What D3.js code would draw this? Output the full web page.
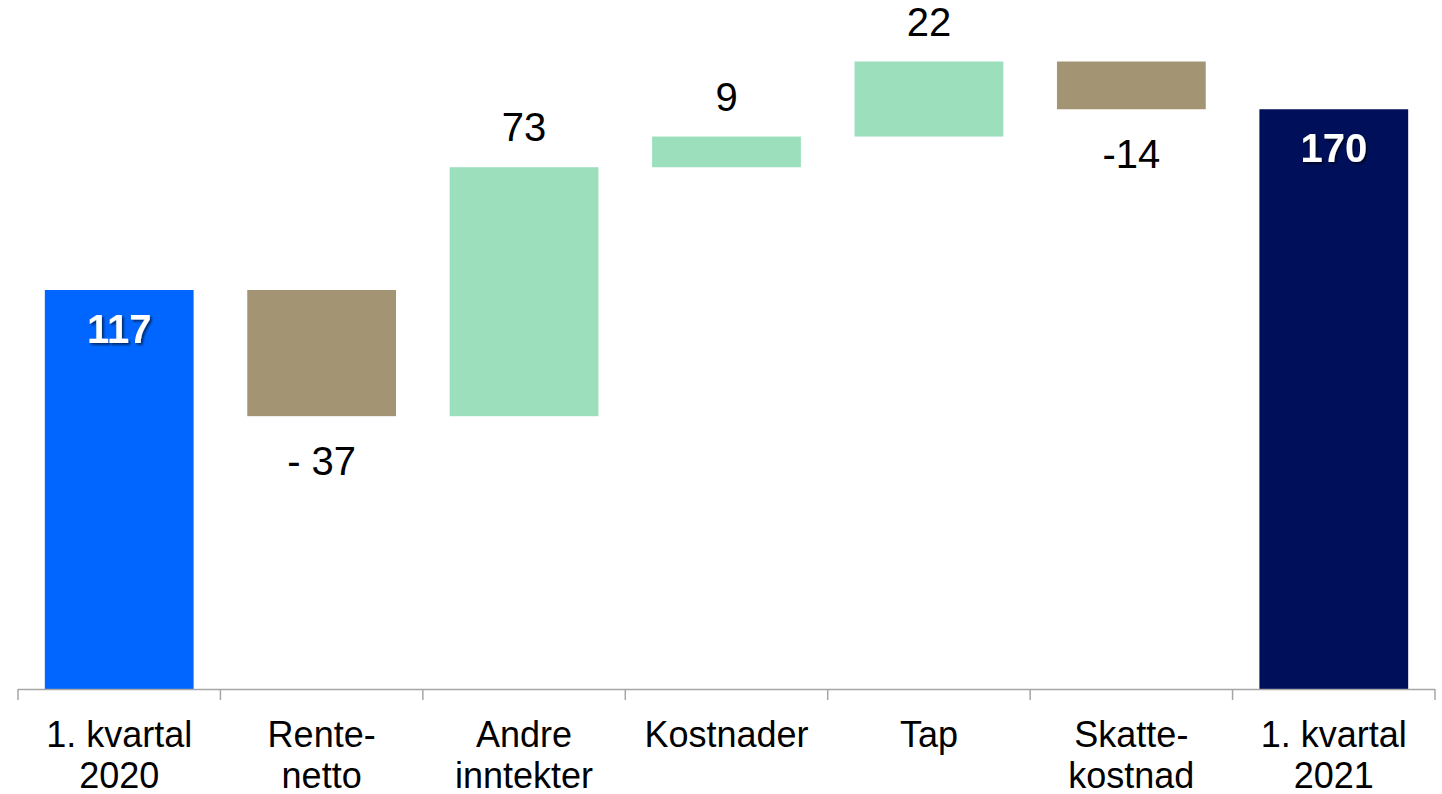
<!DOCTYPE html>
<html>
<head>
<meta charset="utf-8">
<script src="https://cdn.jsdelivr.net/npm/d3@7"></script>
<style>
  body { margin: 0; background: #fff; }
  text { font-family: "Liberation Sans", Arial, sans-serif; }
</style>
</head>
<body>
<script>
// waterfall, resultat 1. kvartal 2020 -> 2021
var categories = [["1. kvartal", "2020"], ["Rente-", "netto"], ["Andre", "inntekter"], ["Kostnader"], ["Tap"], ["Skatte-", "kostnad"], ["1. kvartal", "2021"]];
var values = [117, -37, 73, 9, 22, -14, 170];
var kinds = ["start", "change", "change", "change", "change", "change", "total"];
var valueLabels = ["117", "- 37", "73", "9", "22", "-14", "170"];

var w = 1442, h = 794;
var baseY = 689;

// build floating bars
var bars = [];
var run = 0;
values.forEach(function (v, i) {
  var lo, hi;
  if (kinds[i] == "change") {
    lo = Math.min(run, run + v); hi = Math.max(run, run + v);
    run = run + v;
  } else {
    lo = 0; hi = v; run = v;
  }
  bars.push({ i: i, v: v, lo: lo, hi: hi, kind: kinds[i], label: valueLabels[i] });
});

function barColor(d) {
  if (d.kind == "start") return "#0066ff";
  if (d.kind == "total") return "#000f5a";
  return d.v < 0 ? "#a39574" : "#9cdfbd";
}

var x = d3.scaleBand().domain(d3.range(categories.length)).range([18, 1435]).paddingInner(0.265).paddingOuter(0.1325);
var y = d3.scaleLinear().domain([0, 117]).range([baseY, 290]);

var svg = d3.select("body").append("svg").attr("width", w).attr("height", h);

var defs = svg.append("defs");
var f = defs.append("filter").attr("id", "shadow").attr("x", "-20%").attr("y", "-20%").attr("width", "140%").attr("height", "140%");
f.append("feDropShadow").attr("dx", 2).attr("dy", 2).attr("stdDeviation", 1.2).attr("flood-color", "#000").attr("flood-opacity", 0.55);

svg.selectAll("rect.bar")
  .data(bars)
  .enter()
  .append("rect")
  .attr("class", "bar")
  .attr("x", function (d) { return x(d.i); })
  .attr("width", x.bandwidth())
  .attr("y", function (d) { return y(d.hi); })
  .attr("height", function (d) { return y(d.lo) - y(d.hi); })
  .attr("fill", barColor);

// axis line + ticks between categories
var step = x.step();
var axisG = svg.append("g");
axisG.append("line")
  .attr("x1", 18).attr("x2", 1435)
  .attr("y1", baseY + 0.5).attr("y2", baseY + 0.5)
  .attr("stroke", "#a6a6a6").attr("stroke-width", 1.5);
axisG.selectAll("line.tick")
  .data(d3.range(categories.length + 1))
  .enter()
  .append("line")
  .attr("class", "tick")
  .attr("x1", function (k) { return 18 + k * step; })
  .attr("x2", function (k) { return 18 + k * step; })
  .attr("y1", baseY).attr("y2", baseY + 11)
  .attr("stroke", "#a6a6a6").attr("stroke-width", 1.5);

// category labels
var cat = svg.selectAll("text.cat")
  .data(categories)
  .enter()
  .append("text")
  .attr("class", "cat")
  .attr("text-anchor", "middle")
  .attr("font-size", 36)
  .attr("fill", "#000");
cat.each(function (lines, i) {
  var t = d3.select(this);
  lines.forEach(function (s, j) {
    t.append("tspan")
      .attr("x", x(i) + x.bandwidth() / 2)
      .attr("y", 747 + j * 41)
      .text(s);
  });
});

// value labels
svg.selectAll("text.val")
  .data(bars)
  .enter()
  .append("text")
  .attr("class", "val")
  .attr("text-anchor", "middle")
  .attr("x", function (d) { return x(d.i) + x.bandwidth() / 2; })
  .attr("y", function (d) {
    if (d.kind != "change") return y(d.hi) + 53;
    if (d.v < 0) return y(d.lo) + 59;
    return y(d.hi) - 26;
  })
  .attr("font-size", function (d) { return d.kind == "change" ? 40 : 40; })
  .attr("font-weight", function (d) { return d.kind == "change" ? "normal" : "bold"; })
  .attr("fill", function (d) { return d.kind == "change" ? "#000" : "#fff"; })
  .attr("filter", function (d) { return d.kind == "change" ? null : "url(#shadow)"; })
  .text(function (d) { return d.label; });
</script>
</body>
</html>
